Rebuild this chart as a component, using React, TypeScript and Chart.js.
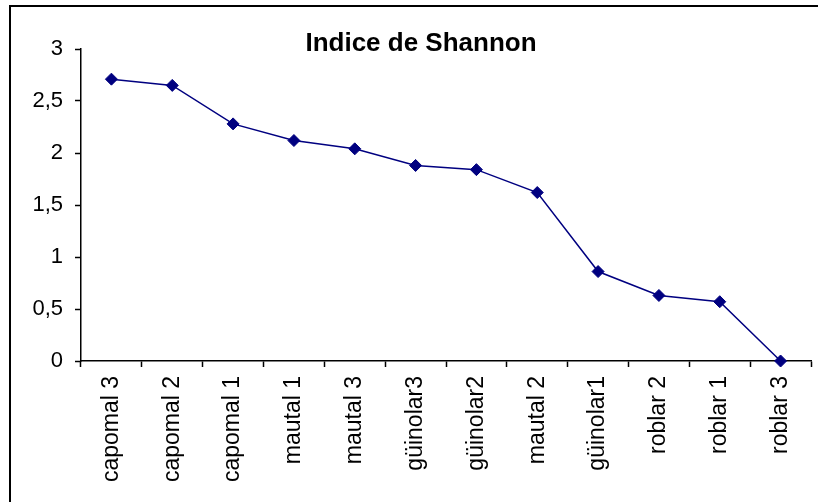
import React, { useEffect, useRef } from "react";
import { Chart, registerables } from "chart.js";

Chart.register(...registerables);

const categories = [
  "capomal 3",
  "capomal 2",
  "capomal 1",
  "mautal 1",
  "mautal 3",
  "güinolar3",
  "güinolar2",
  "mautal 2",
  "güinolar1",
  "roblar 2",
  "roblar 1",
  "roblar 3",
];
const shannonValues = [2.71, 2.65, 2.28, 2.12, 2.04, 1.88, 1.84, 1.62, 0.86, 0.63, 0.57, 0];
const yMin = 0;
const yMax = 3;
const yStep = 0.5;
const chartTitle = "Indice de Shannon";

const FONT = '"Liberation Sans", Arial, sans-serif';

export default function App() {
  const ref = useRef<HTMLCanvasElement>(null);

  useEffect(() => {
    document.body.style.margin = "0";
    const canvas = ref.current;
    if (!canvas) return;

    const framePlugin = {
      id: "framePlugin",
      beforeDraw(chart: any) {
        const ctx = chart.ctx;
        ctx.save();
        ctx.fillStyle = "#ffffff";
        ctx.fillRect(0, 0, chart.width, chart.height);
        ctx.fillStyle = "#000000";
        ctx.fillRect(9, 5, chart.width - 9, 2);
        ctx.fillRect(9, 5, 2, chart.height - 5);
        ctx.restore();
      },
      afterDraw(chart: any) {
        const ctx = chart.ctx;
        ctx.save();
        ctx.fillStyle = "#000000";
        ctx.font = "bold 26px " + FONT;
        ctx.textAlign = "center";
        ctx.textBaseline = "alphabetic";
        ctx.fillText(chartTitle, 421, 51);
        ctx.restore();
      },
    };

    const chart = new Chart(canvas, {
      type: "line",
      data: {
        labels: categories,
        datasets: [
          {
            label: chartTitle,
            data: shannonValues,
            borderColor: "#000080",
            backgroundColor: "#000080",
            borderWidth: 1.5,
            tension: 0,
            pointStyle: "rectRot",
            pointRadius: 6,
            pointBorderWidth: 1,
            pointBackgroundColor: "#000080",
            pointBorderColor: "#000080",
            clip: false as any,
          },
        ],
      },
      options: {
        responsive: false,
        animation: false,
        layout: { padding: { top: 49, left: 0, right: 1, bottom: 0 } },
        plugins: {
          legend: { display: false },
          title: { display: false },
          tooltip: { enabled: false },
        },
        scales: {
          x: {
            type: "category",
            offset: true,
            grid: {
              display: true,
              offset: true,
              drawOnChartArea: false,
              drawTicks: true,
              tickLength: 6,
              tickColor: "#000",
              tickWidth: 1.5,
              color: "#000",
            },
            border: { display: true, color: "#000", width: 1.5 },
            ticks: {
              color: "#000",
              font: { family: FONT, size: 23 },
              minRotation: 90,
              maxRotation: 90,
              autoSkip: false,
              padding: 9,
            },
            afterFit(scale: any) {
              scale.height = 141;
            },
          },
          y: {
            type: "linear",
            min: yMin,
            max: yMax,
            grid: {
              display: true,
              drawOnChartArea: false,
              drawTicks: true,
              tickLength: 6,
              tickColor: "#000",
              tickWidth: 1.5,
              color: "#000",
            },
            border: { display: true, color: "#000", width: 1.5 },
            ticks: {
              stepSize: yStep,
              color: "#000",
              font: { family: FONT, size: 22 },
              padding: 12,
              callback: (v: any) => String(v).replace(".", ","),
            },
            afterFit(scale: any) {
              scale.width = 81;
            },
          },
        },
      },
      plugins: [framePlugin],
    });

    return () => chart.destroy();
  }, []);

  return (
    <div style={{ width: 818, height: 502, position: "relative" }}>
      <canvas ref={ref} width={818} height={502} style={{ display: "block" }} />
    </div>
  );
}
